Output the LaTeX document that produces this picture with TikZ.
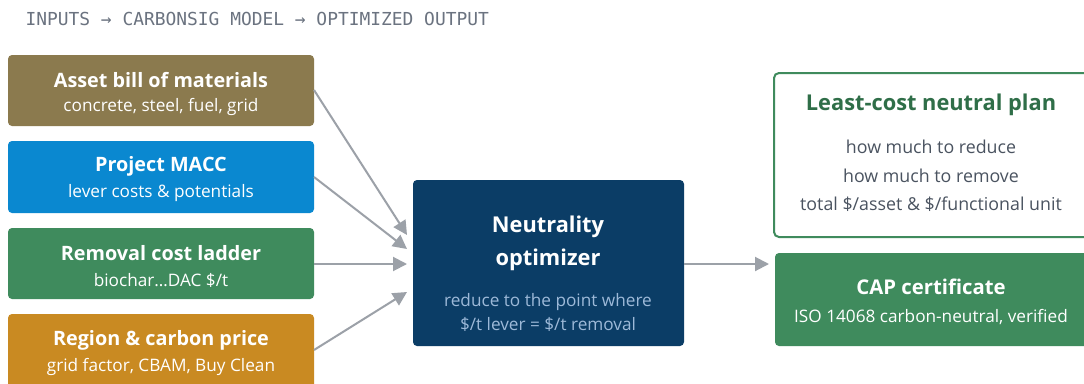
\documentclass[tikz,border=0pt]{standalone}
\usepackage{fontspec}
\setmainfont{Open Sans}
\newfontfamily\headfont{DejaVu Sans Mono}
\usetikzlibrary{arrows.meta}
\definecolor{bomc}{HTML}{8B7A4E}
\definecolor{maccc}{HTML}{0A88D0}
\definecolor{remc}{HTML}{3F8B5D}
\definecolor{regc}{HTML}{C98A22}
\definecolor{optc}{HTML}{0B3D66}
\definecolor{optsub}{HTML}{9DB9D8}
\definecolor{planc}{HTML}{2F6E48}
\definecolor{bodyc}{HTML}{4A5360}
\definecolor{linkc}{HTML}{9CA1A8}
\definecolor{headc}{HTML}{6B7380}
\tikzset{
  inbox/.style={rounded corners=4pt, fill=#1, draw=none},
  ttl/.style={font=\fontsize{19.8}{22}\selectfont\bfseries, text=white, anchor=center},
  bigttl/.style={ttl, font=\fontsize{21.8}{26}\selectfont\bfseries},
  sub/.style={font=\fontsize{17.2}{20}\selectfont, text=white, anchor=center},
  link/.style={draw=linkc, line width=2pt, -{Triangle[length=14pt,width=14pt]}},
}
\begin{document}
\begin{tikzpicture}[x=1pt,y=-1pt]
\useasboundingbox (0,0) rectangle (1084,383);
\clip (0,0) rectangle (1084,383);
\fill[white] (0,0) rectangle (1084,383);

% header
\node[anchor=west, font=\headfont\fontsize{17.9}{20}\selectfont, text=headc] (head) at (22,19) {INPUTS → CARBONSIG MODEL → OPTIMIZED OUTPUT};

% input boxes
\fill[inbox=bomc] (8,55) rectangle (314,126);
\fill[inbox=maccc] (8,141) rectangle (314,213);
\fill[inbox=remc] (8,228) rectangle (314,299);
\fill[inbox=regc] (8,314) rectangle (314,400);
\node (bom) at (161,90.5) {};
\node (macc) at (161,177) {};
\node (rem) at (161,263.5) {};
\node (reg) at (161,350) {};
\node[ttl] at (161,80) {Asset bill of materials};
\node[sub] at (161,106.5) {concrete, steel, fuel, grid};
\node[ttl] at (161,166.5) {Project MACC};
\node[sub] at (161,193.5) {lever costs \& potentials};
\node[ttl] at (161,253.5) {Removal cost ladder};
\node[sub] at (161,280.5) {biochar…DAC \$/t};
\node[ttl] at (161,340) {Region \& carbon price};
\node[sub] at (161,367) {grid factor, CBAM, Buy Clean};

% optimizer
\fill[inbox=optc] (413,180) rectangle (684,346);
\node (opt) at (548,263) {};
\node[bigttl] at (548,227) {Neutrality};
\node[bigttl] at (548,260) {optimizer};
\node[sub, text=optsub] at (548,302) {reduce to the point where};
\node[sub, text=optsub] at (548,324) {\$/t lever = \$/t removal};

% outputs
\draw[draw=remc, line width=2pt, rounded corners=5pt, fill=white] (774,73) rectangle (1096,237);
\node[bigttl, text=planc] at (931,105) {Least-cost neutral plan};
\node[sub, text=bodyc, font=\fontsize{17.8}{20}\selectfont] at (931,147) {how much to reduce};
\node[sub, text=bodyc, font=\fontsize{17.8}{20}\selectfont] at (931,176) {how much to remove};
\node[sub, text=bodyc, font=\fontsize{17.8}{20}\selectfont] at (931,204) {total \$/asset \& \$/functional unit};
\fill[inbox=remc] (775,253) rectangle (1096,346);
\node (cap) at (931,300) {};
\node[ttl, font=\fontsize{20.3}{22}\selectfont\bfseries] at (931,286.5) {CAP certificate};
\node[sub] at (931,317) {ISO 14068 carbon-neutral, verified};

% connectors
\coordinate (bomE) at (314,90);
\coordinate (maccE) at (314,177);
\coordinate (remE) at (314,264);
\coordinate (regE) at (314,350);
\coordinate (optA) at (407,235);
\coordinate (optB) at (407,249);
\coordinate (optC) at (407,264);
\coordinate (optD) at (407,292);
\coordinate (optE) at (684,264);
\coordinate (capW) at (769,264);
\draw[link] (bomE) -- (optA);
\draw[link] (maccE) -- (optB);
\draw[link] (remE) -- (optC);
\draw[link] (regE) -- (optD);
\draw[link] (optE) -- (capW);
\end{tikzpicture}
\end{document}
